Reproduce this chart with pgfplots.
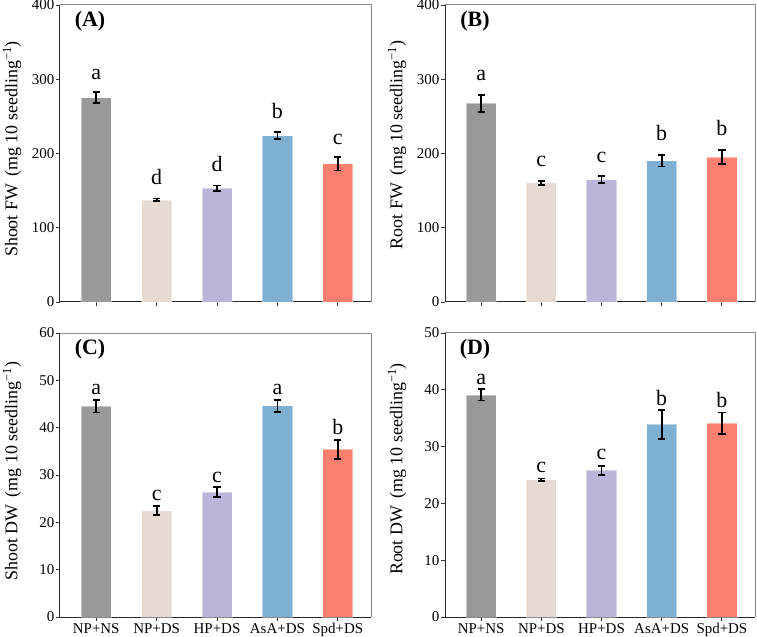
\documentclass[border=0pt]{standalone}
\usepackage{pgfplots}
\pgfplotsset{compat=1.18}
\usepackage{fontspec}
\setmainfont{Liberation Serif}
\definecolor{cgray}{HTML}{999999}
\definecolor{cbeige}{HTML}{E6DBD2}
\definecolor{clav}{HTML}{BCB5DA}
\definecolor{cblue}{HTML}{7FAFD3}
\definecolor{csalmon}{HTML}{FA7F6F}
\definecolor{spine}{HTML}{8A8A8A}
\pgfplotsset{
  panel/.style={
    scale only axis,
    xmin=-0.6, xmax=4.55, ymin=0,
    axis lines=left,
    axis line style={-, line width=1bp, black!85},
    every outer x axis line/.append style={-},
    every outer y axis line/.append style={-},
    tick align=outside,
    major tick length=4bp,
    tick style={line width=0.9bp, black!80},
    xtick={0,1,2,3,4},
    ybar, bar width=0.5, bar shift=0pt,
    ticklabel style={font=\fontsize{15}{18}\selectfont},
    yticklabel style={inner sep=1.5bp},
    xticklabel style={inner sep=2bp},
    /pgf/number format/assume math mode=true,
    clip=false,
    enlargelimits=false,
    ylabel style={font=\fontsize{18}{21}\selectfont, anchor=center},
  },
  barstyle/.style={fill=#1, draw=white, draw opacity=0.45, line width=0.8bp,
    error bars/.cd, y dir=both, y explicit,
    error bar style={line width=1.8bp, black, draw opacity=1},
    error mark options={rotate=90, mark size=3.6bp, line width=1.8bp, black, draw opacity=1}},
}
\newcommand{\lett}[3]{\node[anchor=base, font=\fontsize{22}{24}\selectfont, inner sep=0pt] at (axis cs:#1,#2) {#3};}
\newcommand{\spines}{\draw[spine, line width=1bp] (rel axis cs:0,1) -- (rel axis cs:1,1) -- (rel axis cs:1,0);}
\newcommand{\panellab}[1]{\node[font=\fontsize{22}{24}\selectfont\bfseries, anchor=center] at ([xshift=30bp, yshift=-16bp]rel axis cs:0,1) {#1};}
\begin{document}
\begin{tikzpicture}
\useasboundingbox (0,0) rectangle (757bp,637bp);
% ---------- (A)
\begin{axis}[panel, at={(60bp,335bp)}, anchor=south west, width=311bp, height=297bp,
  ymax=400, ytick={0,100,200,300,400}, xticklabels={},
  ylabel={Shoot FW\hspace{0.4em}(mg 10 seedling\textsuperscript{−1})},
  ylabel style={at={(rel axis cs:-0.1543,0.515)}}]
\addplot[barstyle=cgray] coordinates {(0,275) +- (0,7.5)};
\addplot[barstyle=cbeige] coordinates {(1,137.5) +- (0,2)};
\addplot[barstyle=clav] coordinates {(2,153.3) +- (0,3.6)};
\addplot[barstyle=cblue] coordinates {(3,223.8) +- (0,4.7)};
\addplot[barstyle=csalmon] coordinates {(4,186) +- (0,8.8)};
\lett{0}{300}{a}\lett{1}{157.8}{d}\lett{2}{175.3}{d}\lett{3}{247.6}{b}\lett{4}{212.6}{c}
\spines
\panellab{(A)}
\end{axis}
% ---------- (B)
\begin{axis}[panel, at={(445bp,335bp)}, anchor=south west, width=310bp, height=297bp,
  ymax=400, ytick={0,100,200,300,400}, xticklabels={},
  ylabel={Root FW\hspace{0.4em}(mg 10 seedling\textsuperscript{−1})},
  ylabel style={at={(rel axis cs:-0.1548,0.529)}}]
\addplot[barstyle=cgray] coordinates {(0,267.4) +- (0,11.7)};
\addplot[barstyle=cbeige] coordinates {(1,160.4) +- (0,2.7)};
\addplot[barstyle=clav] coordinates {(2,164.9) +- (0,5)};
\addplot[barstyle=cblue] coordinates {(3,190.1) +- (0,7.6)};
\addplot[barstyle=csalmon] coordinates {(4,195) +- (0,9.2)};
\lett{0}{298}{a}\lett{1}{182.5}{c}\lett{2}{188.3}{c}\lett{3}{217}{b}\lett{4}{224.3}{b}
\spines
\panellab{(B)}
\end{axis}
% ---------- (C)
\begin{axis}[panel, at={(60bp,20bp)}, anchor=south west, width=311bp, height=284bp,
  ymax=60, ytick={0,10,20,30,40,50,60},
  xticklabels={NP+NS,NP+DS,HP+DS,AsA+DS,Spd+DS},
  ylabel={Shoot DW\hspace{0.4em}(mg 10 seedling\textsuperscript{−1})},
  ylabel style={at={(rel axis cs:-0.1543,0.514)}}]
\addplot[barstyle=cgray] coordinates {(0,44.5) +- (0,1.3)};
\addplot[barstyle=cbeige] coordinates {(1,22.5) +- (0,1.0)};
\addplot[barstyle=clav] coordinates {(2,26.4) +- (0,1.0)};
\addplot[barstyle=cblue] coordinates {(3,44.6) +- (0,1.3)};
\addplot[barstyle=csalmon] coordinates {(4,35.4) +- (0,1.95)};
\lett{0}{47.1}{a}\lett{1}{24.6}{c}\lett{2}{28.5}{c}\lett{3}{47.1}{a}\lett{4}{38.5}{b}
\spines
\panellab{(C)}
\end{axis}
% ---------- (D)
\begin{axis}[panel, at={(445bp,20bp)}, anchor=south west, width=310bp, height=284bp,
  ymax=50, ytick={0,10,20,30,40,50},
  xticklabels={NP+NS,NP+DS,HP+DS,AsA+DS,Spd+DS},
  ylabel={Root DW\hspace{0.4em}(mg 10 seedling\textsuperscript{−1})},
  ylabel style={at={(rel axis cs:-0.1548,0.521)}}]
\addplot[barstyle=cgray] coordinates {(0,39.1) +- (0,1.0)};
\addplot[barstyle=cbeige] coordinates {(1,24.2) +- (0,0.2)};
\addplot[barstyle=clav] coordinates {(2,25.8) +- (0,0.76)};
\addplot[barstyle=cblue] coordinates {(3,33.9) +- (0,2.5)};
\addplot[barstyle=csalmon] coordinates {(4,34.1) +- (0,1.9)};
\lett{0}{41.0}{a}\lett{1}{25.4}{c}\lett{2}{27.7}{c}\lett{3}{37.2}{b}\lett{4}{36.9}{b}
\spines
\panellab{(D)}
\end{axis}
\end{tikzpicture}
\end{document}
